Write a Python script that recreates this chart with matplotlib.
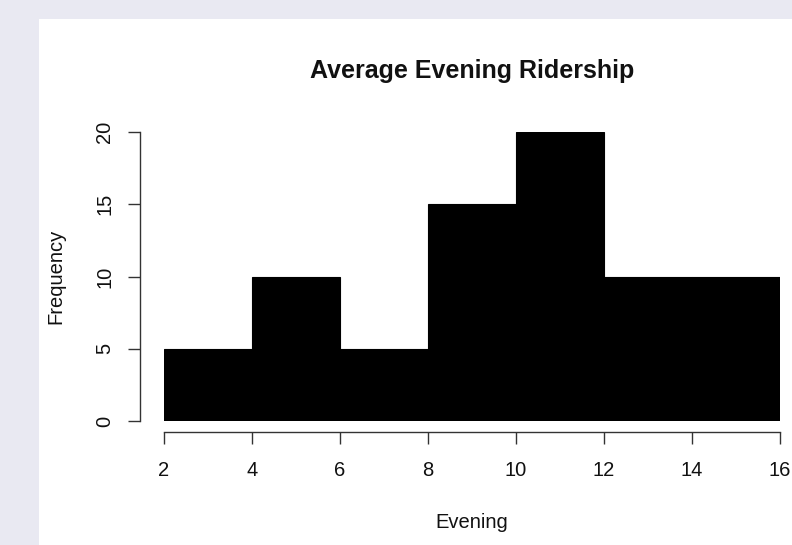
import matplotlib
matplotlib.use("Agg")
import matplotlib.pyplot as plt
from matplotlib.patches import Rectangle

# histogram of average evening ridership
bin_edges = [2, 4, 6, 8, 10, 12, 14, 16]
counts = [5, 10, 5, 15, 20, 10, 10]
x_ticks = [2, 4, 6, 8, 10, 12, 14, 16]
y_ticks = [0, 5, 10, 15, 20]

plt.rcParams['font.family'] = ['Liberation Sans', 'DejaVu Sans']

W, H = 792, 545
fig = plt.figure(figsize=(W / 100, H / 100), dpi=100, facecolor='#e9e9f2')

# white plotting page
fig.patches.append(Rectangle((39 / W, 0), 1, (H - 19) / H, transform=fig.transFigure,
                             facecolor='white', edgecolor='none', zorder=-5))

ax = fig.add_axes([164 / W, (H - 421) / H, 616 / W, 289 / H])
ax.set_facecolor('none')
ax.set_zorder(2)

widths = [b - a for a, b in zip(bin_edges[:-1], bin_edges[1:])]
ax.bar(bin_edges[:-1], counts, width=widths, align='edge',
       color='black', edgecolor='black', linewidth=0.8)

ax.set_xlim(2, 16)
ax.set_ylim(0, 20)

for s in ['top', 'right']:
    ax.spines[s].set_visible(False)
ax.spines['left'].set_position(('outward', 17.3))
ax.spines['bottom'].set_position(('outward', 8))
ax.spines['left'].set_bounds(0, 20)
ax.spines['bottom'].set_bounds(2, 16)
for s in ['left', 'bottom']:
    ax.spines[s].set_color('#333333')
    ax.spines[s].set_linewidth(1.0)

ax.set_xticks(x_ticks)
ax.set_yticks(y_ticks)
ax.tick_params(axis='both', length=8.6, width=1.0, color='#333333',
               labelsize=14.5, labelcolor='#111111')
ax.tick_params(axis='x', pad=12.5)
ax.tick_params(axis='y', pad=10)
for lab in ax.get_yticklabels():
    lab.set_rotation(90)
    lab.set_va('center')
    lab.set_ha('right')

cx = (164 + 780) / 2 / W
fig.text(cx, (H - 78) / H, 'Average Evening Ridership', ha='center', va='baseline',
         fontsize=18, fontweight='bold', color='#111111')
fig.text(cx, (H - 528) / H, 'Evening', ha='center', va='baseline',
         fontsize=14.5, color='#111111')
fig.text(56 / W, (H - 276) / H, 'Frequency', ha='center', va='center',
         rotation=90, fontsize=14.5, color='#111111')

fig.savefig('out.png', dpi=100, facecolor=fig.get_facecolor())
